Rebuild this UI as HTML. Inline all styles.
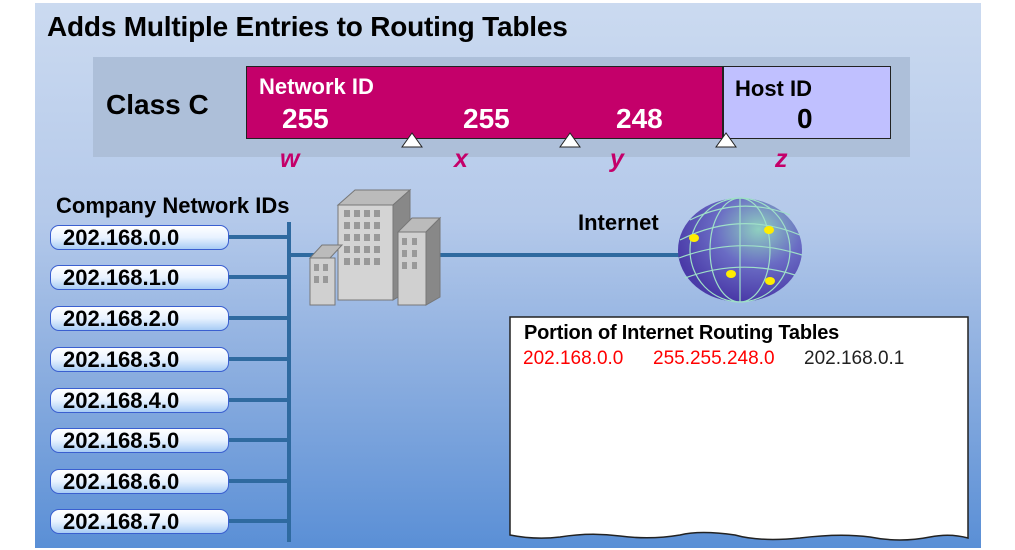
<!DOCTYPE html>
<html><head><style>
body{margin:0;width:1015px;height:550px;background:#fff;position:relative;overflow:hidden;font-family:"Liberation Sans",sans-serif;}
.bg{position:absolute;left:35px;top:3px;width:946px;height:545px;background:linear-gradient(#cbdaf0 0%,#b4c9ea 40%,#8fb0e0 65%,#5a8fd6 100%);}
.a{position:absolute;white-space:nowrap;}
.pill{position:absolute;left:50px;border:1.5px solid #3a5fd0;border-radius:9px;background:linear-gradient(#ffffff,#e8f2ff 50%,#a8ccf5);font-weight:bold;font-size:22px;line-height:24px;padding-left:12px;box-sizing:border-box;width:179px;height:25px;}
</style></head><body>
<div class="bg"></div>
<div class="a" style="left:47px;top:11px;font-size:28px;font-weight:bold;letter-spacing:-0.2px;">Adds Multiple Entries to Routing Tables</div>
<div class="a" style="left:93px;top:57px;width:817px;height:100px;background:#adbfd9;"></div>
<div class="a" style="left:106px;top:89px;font-size:28px;font-weight:bold;">Class C</div>
<div class="a" style="left:246px;top:66px;width:477px;height:73px;background:#c4006a;border:1px solid #222;box-sizing:border-box;"></div>
<div class="a" style="left:723px;top:66px;width:168px;height:73px;background:#c0c0ff;border:1px solid #222;box-sizing:border-box;"></div>
<div class="a" style="left:259px;top:74px;font-size:22px;font-weight:bold;color:#fff;">Network ID</div>
<div class="a" style="left:282px;top:103px;font-size:28px;font-weight:bold;color:#fff;">255</div>
<div class="a" style="left:463px;top:103px;font-size:28px;font-weight:bold;color:#fff;">255</div>
<div class="a" style="left:616px;top:103px;font-size:28px;font-weight:bold;color:#fff;">248</div>
<div class="a" style="left:735px;top:76px;font-size:22px;font-weight:bold;">Host ID</div>
<div class="a" style="left:797px;top:103px;font-size:28px;font-weight:bold;">0</div>
<div class="a" style="left:280px;top:145px;font-size:25px;font-weight:bold;font-style:italic;color:#c4006a;">w</div>
<div class="a" style="left:454px;top:145px;font-size:25px;font-weight:bold;font-style:italic;color:#c4006a;">x</div>
<div class="a" style="left:610px;top:145px;font-size:25px;font-weight:bold;font-style:italic;color:#c4006a;">y</div>
<div class="a" style="left:775px;top:145px;font-size:25px;font-weight:bold;font-style:italic;color:#c4006a;">z</div>
<svg class="a" style="left:0;top:0" width="1015" height="550">
<g fill="#fff" stroke="#222" stroke-width="1"><polygon points="412,133 402,147 422,147"/><polygon points="570,133 560,147 580,147"/><polygon points="726,133 716,147 736,147"/></g>
<g stroke="#2f6aa0" stroke-width="4"><line x1="289" y1="222" x2="289" y2="542"/>
<line x1="226" y1="237" x2="289" y2="237"/><line x1="226" y1="277" x2="289" y2="277"/><line x1="226" y1="318" x2="289" y2="318"/><line x1="226" y1="359" x2="289" y2="359"/><line x1="226" y1="400" x2="289" y2="400"/><line x1="226" y1="440" x2="289" y2="440"/><line x1="226" y1="481" x2="289" y2="481"/><line x1="226" y1="521" x2="289" y2="521"/>
<line x1="289" y1="255" x2="320" y2="255"/><line x1="430" y1="255" x2="690" y2="255"/></g>
<g stroke="#777" stroke-width="1">
<polygon points="338,205 355,190 410,190 393,205" fill="#bbb"/><polygon points="393,205 410,190 410,290 393,300" fill="#888"/><rect x="338" y="205" width="55" height="95" fill="#d4d4d4"/>
<polygon points="398,232 412,218 440,218 426,232" fill="#bbb"/><polygon points="426,232 440,218 440,297 426,305" fill="#888"/><rect x="398" y="232" width="28" height="73" fill="#d0d0d0"/>
<polygon points="310,258 322,245 342,245 330,258" fill="#bbb"/><rect x="310" y="258" width="25" height="47" fill="#d0d0d0"/></g>
<g fill="#999">
<rect x="344" y="210" width="6" height="7"/><rect x="354" y="210" width="6" height="7"/><rect x="364" y="210" width="6" height="7"/><rect x="374" y="210" width="6" height="7"/>
<rect x="344" y="222" width="6" height="7"/><rect x="354" y="222" width="6" height="7"/><rect x="364" y="222" width="6" height="7"/><rect x="374" y="222" width="6" height="7"/>
<rect x="344" y="234" width="6" height="7"/><rect x="354" y="234" width="6" height="7"/><rect x="364" y="234" width="6" height="7"/><rect x="374" y="234" width="6" height="7"/>
<rect x="344" y="246" width="6" height="7"/><rect x="354" y="246" width="6" height="7"/><rect x="364" y="246" width="6" height="7"/><rect x="374" y="246" width="6" height="7"/>
<rect x="344" y="258" width="6" height="7"/><rect x="354" y="258" width="6" height="7"/><rect x="364" y="258" width="6" height="7"/><rect x="374" y="258" width="6" height="7"/>
<rect x="402" y="238" width="5" height="7"/><rect x="412" y="238" width="5" height="7"/><rect x="402" y="250" width="5" height="7"/><rect x="412" y="250" width="5" height="7"/><rect x="402" y="262" width="5" height="7"/><rect x="412" y="262" width="5" height="7"/>
<rect x="314" y="264" width="5" height="7"/><rect x="323" y="264" width="5" height="7"/><rect x="314" y="276" width="5" height="7"/><rect x="323" y="276" width="5" height="7"/></g>
<defs><radialGradient id="g" cx="0.65" cy="0.3" r="0.7"><stop offset="0" stop-color="#8fd0c0"/><stop offset="0.5" stop-color="#6a6cc4"/><stop offset="1" stop-color="#4a3aa8"/></radialGradient></defs>
<ellipse cx="740" cy="250" rx="62" ry="52" fill="url(#g)"/>
<g stroke="#9fe0c8" stroke-width="1.2" fill="none"><ellipse cx="740" cy="250" rx="30" ry="52"/><ellipse cx="740" cy="250" rx="50" ry="52"/><line x1="740" y1="198" x2="740" y2="302"/><path d="M680,240 Q740,210 800,235"/><path d="M679,258 Q740,235 802,255"/><path d="M685,278 Q740,258 795,275"/><path d="M690,220 Q740,195 790,215"/></g>
<g fill="#ffee00"><ellipse cx="694" cy="238" rx="5" ry="4"/><ellipse cx="769" cy="230" rx="5" ry="4"/><ellipse cx="731" cy="274" rx="5" ry="4"/><ellipse cx="770" cy="281" rx="5" ry="4"/></g>
<path d="M510,317 H968 V538 Q950,533 930,537 Q900,543 870,537 Q840,533 800,538 Q760,542 735,535 Q700,530 680,535 Q650,540 620,536 Q590,532 560,537 Q535,540 510,535 Z" fill="#fff" stroke="#222" stroke-width="1.5"/>
</svg>
<div class="a" style="left:56px;top:193px;font-size:22px;font-weight:bold;">Company Network IDs</div>
<div class="pill" style="top:225px;">202.168.0.0</div>
<div class="pill" style="top:265px;">202.168.1.0</div>
<div class="pill" style="top:306px;">202.168.2.0</div>
<div class="pill" style="top:347px;">202.168.3.0</div>
<div class="pill" style="top:388px;">202.168.4.0</div>
<div class="pill" style="top:428px;">202.168.5.0</div>
<div class="pill" style="top:469px;">202.168.6.0</div>
<div class="pill" style="top:509px;">202.168.7.0</div>
<div class="a" style="left:578px;top:210px;font-size:22px;font-weight:bold;">Internet</div>
<div class="a" style="left:524px;top:322px;font-size:20px;font-weight:bold;letter-spacing:-0.2px;">Portion of Internet Routing Tables</div>
<div class="a" style="left:523px;top:348px;font-size:19px;color:#f00;">202.168.0.0</div>
<div class="a" style="left:653px;top:348px;font-size:19px;color:#f00;">255.255.248.0</div>
<div class="a" style="left:804px;top:348px;font-size:19px;color:#222;">202.168.0.1</div>
</body></html>
